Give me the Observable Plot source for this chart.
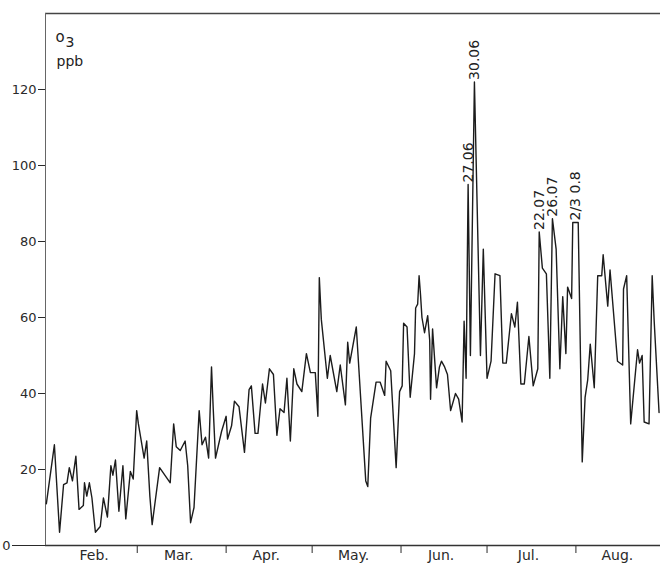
<!DOCTYPE html>
<html><head><meta charset="utf-8">
<script src="https://cdn.jsdelivr.net/npm/d3@7"></script>
<script src="https://cdn.jsdelivr.net/npm/@observablehq/plot@0.6"></script>
<style>
body{margin:0;background:#fff;}
#chart svg{display:block;}
</style>
</head><body><div id="chart"></div>
<script>
// days counted from 1 February; O3 in ppb
const days = [
  -3.7,-0.9,0.9,2.3,3.5,4.3,5.4,6.6,7.7,9.2,
  9.6,10.4,11.3,12.2,13.4,15.1,16.2,17.6,18.8,19.5,
  20.4,21.6,23.0,24.0,25.6,26.6,27.8,28.4,30.4,31.3,
  32.4,33.2,35.8,39.5,40.7,41.6,43.0,44.7,45.6,46.6,
  47.8,49.6,50.6,51.8,52.9,53.9,54.5,55.3,57.4,59.0,
  59.5,60.9,61.9,63.5,65.4,67.0,67.8,69.1,70.1,71.7,
  72.7,74.1,75.5,76.7,77.8,79.2,80.2,81.4,82.6,83.7,
  85.4,87.0,88.4,90.1,91.0,91.5,92.2,94.3,95.3,97.6,
  98.8,100.6,101.4,102.1,104.4,107.7,108.4,109.4,111.3,112.7,
  114.3,114.8,116.4,118.3,119.5,120.4,120.9,122.1,123.2,124.7,
  125.1,125.8,126.3,126.8,127.3,128.2,129.3,130.0,130.3,131.0,
  132.4,133.4,134.1,135.2,136.2,137.3,139.0,140.1,141.3,142.0,
  142.7,143.4,144.2,145.6,147.7,148.7,150.0,151.4,152.8,154.5,
  155.5,156.7,158.5,159.7,160.6,161.8,163.0,164.6,166.1,167.7,
  168.2,169.3,170.7,171.9,172.8,174.1,175.4,176.4,177.5,178.1,
  179.5,179.9,181.8,183.2,184.2,185.1,186.0,187.4,188.6,190.0,
  190.5,192.1,192.9,195.5,197.3,197.6,198.7,200.1,202.5,203.2,
  204.1,204.8,206.5,207.6,208.3,210.0
];
const o3 = [
  11,26.5,3.5,16,16.5,20.5,17,23.5,9.5,10.5,
  16.5,13,16.5,12.5,3.5,5,12.5,7.5,21,18.5,
  22.5,9,21,7,19.5,17.5,35.5,32,23,27.5,
  13,5.5,20.5,16.5,32,26,25,27.5,21,6,
  10,35.5,26.5,28.5,23,47,36,23,30,34,
  28,31.5,38,36.5,24.5,41,42,29.5,29.5,42.5,
  37.5,46.5,45,29,36,35,44,27.5,46.5,42.5,
  40.5,50.5,45.5,45.5,34,70.5,59.5,44,50,40.5,
  47.5,37,53.5,48,57.5,17,15.5,33.5,43,43,
  39.5,48.5,46,20.5,40.5,42,58.5,57.5,39,50.5,
  62.5,63.5,71,66,60,56,60.5,54,38.5,57,
  41.5,47,48.5,47,45,35.5,40,38.5,32.5,59,
  44,95,50,122,50,78,44,48.5,71.5,71,
  48,48,61,57.5,64,42.5,42.5,55,42,46.5,
  82.5,73,71.5,44,86,78,46.5,65.5,50.5,68,
  65,85,85,22,39,43.5,53,41.5,71,71,
  76.5,63,72.5,48.5,47.5,67.5,71,32,51.5,48,
  50,32.5,32,71,59,35
];
const monthNames = ["Feb.","Mar.","Apr.","May.","Jun.","Jul.","Aug."];
const monthStarts = [0,28,59,89,120,150,181,212];
const yTicks = [20,40,60,80,100,120];
const peakDays = [143.4,145.6,168.2,172.8,180.85];
const peakValues = [95,122,82.5,86,85];
const peakLabels = ["27.06","30.06","22.07","26.07","2/3 0.8"];

const series = days.map((d, i) => ({d, v: o3[i]}));
const monthMids = monthNames.map((m, i) => (monthStarts[i] + monthStarts[i + 1]) / 2);
const boundaryTicks = monthStarts.slice(1, 7);
const peaks = peakDays.map((d, i) => ({d, v: peakValues[i], t: peakLabels[i]}));

const font = "'DejaVu Sans', Verdana, sans-serif";
const chart = Plot.plot({
  width: 660, height: 564,
  marginLeft: 45, marginRight: 0, marginTop: 13, marginBottom: 19,
  style: {fontFamily: font, fontSize: "13px", color: "#2a2a2a", background: "#fff"},
  x: {domain: [-4, 210.5], axis: null},
  y: {domain: [0, 140], axis: null},
  marks: [
    Plot.axisY({ticks: yTicks, tickSize: 7, tickPadding: 2, fontSize: 13, label: null, tickFormat: d => String(d)}),
    Plot.axisY({ticks: [0], tickSize: 33, tickPadding: 2, fontSize: 13, label: null, tickFormat: d => String(d)}),
    Plot.axisX({ticks: boundaryTicks, tickSize: 8, tickFormat: () => "", label: null}),
    Plot.axisX({ticks: monthMids, tickSize: 0, tickPadding: 5, fontSize: 14, label: null, dx: -3,
      tickFormat: d => monthNames[monthMids.indexOf(d)]}),
    Plot.ruleY([0], {stroke: "#333", strokeWidth: 1.3}),
    Plot.ruleY([140], {stroke: "#444", strokeWidth: 1.4}),
    Plot.ruleX([-4], {stroke: "#666", strokeWidth: 1}),
    Plot.line(series, {x: "d", y: "v", stroke: "#1c1c1c", strokeWidth: 1.4}),
    Plot.text(peaks, {x: "d", y: "v", text: "t", rotate: -90, textAnchor: "start",
      lineAnchor: "middle", dy: -2, fontSize: 14, fill: "#222"}),
    Plot.text(["o"], {frameAnchor: "top-left", dx: 10, dy: 18, textAnchor: "start", fontSize: 15, fill: "#222"}),
    Plot.text(["3"], {frameAnchor: "top-left", dx: 20, dy: 24, textAnchor: "start", fontSize: 14, fill: "#222"}),
    Plot.text(["ppb"], {frameAnchor: "top-left", dx: 11, dy: 43, textAnchor: "start", fontSize: 14, fill: "#222"})
  ]
});
document.getElementById("chart").appendChild(chart);
</script>
</body></html>
